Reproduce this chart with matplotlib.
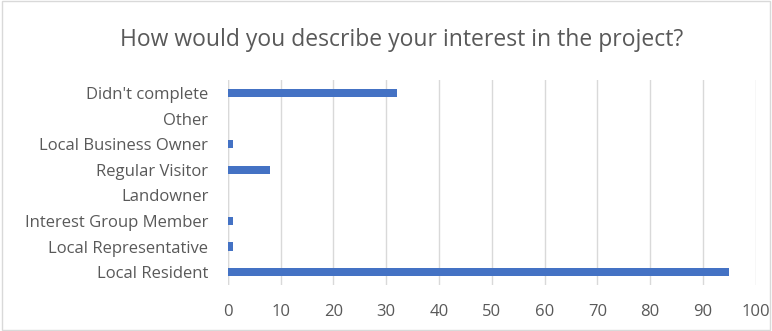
import matplotlib
matplotlib.use("Agg")
import matplotlib.pyplot as plt

categories = ["Local Resident", "Local Representative", "Interest Group Member",
              "Landowner", "Regular Visitor", "Local Business Owner", "Other",
              "Didn't complete"]
counts = [95, 1, 1, 0, 8, 1, 0, 32]
xticks = list(range(0, 101, 10))

plt.rcParams['font.family'] = ['Open Sans', 'DejaVu Sans']
txt = '#595959'

fig = plt.figure(figsize=(7.72, 3.31), dpi=100)
ax = fig.add_axes([0.295, 0.139, 0.684, 0.619])

ax.barh(range(len(categories)), counts, height=0.33, color='#4472C4', zorder=3)
ax.set_ylim(-0.5, len(categories) - 0.5)
ax.set_xlim(0, 100)
ax.set_xticks(xticks)
ax.set_yticks(range(len(categories)))
ax.set_yticklabels(categories)
ax.tick_params(axis='both', length=0, colors=txt, labelsize=12)
ax.tick_params(axis='x', pad=14)
ax.tick_params(axis='y', pad=14)
ax.grid(axis='x', color='#D9D9D9', lw=1, zorder=0)
for s in ax.spines.values():
    s.set_visible(False)
ax.axvline(0, color='#D9D9D9', lw=1, zorder=1)

fig.text(0.52, 0.879, "How would you describe your interest in the project?",
         ha='center', va='center', fontsize=16.5, color=txt)

fig.patches.append(plt.Rectangle((0.002, 0.003), 0.996, 0.994, transform=fig.transFigure,
                                 fill=False, edgecolor='#D9D9D9', lw=1))

fig.savefig("out.png", dpi=100)
